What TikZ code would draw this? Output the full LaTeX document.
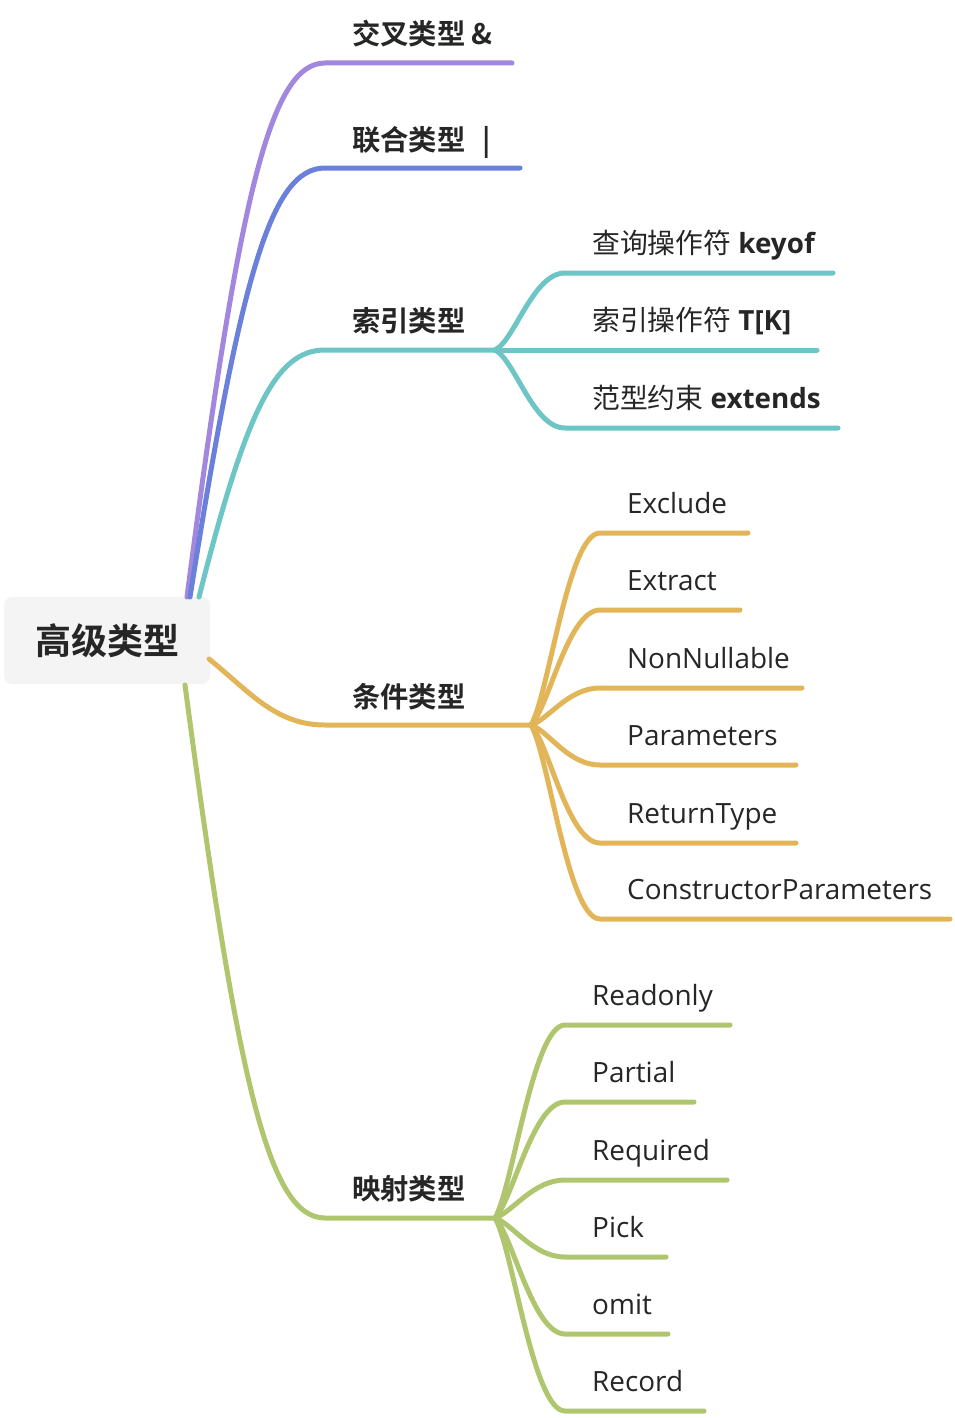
\documentclass[tikz,border=0pt]{standalone}
\usepackage{fontspec}
\setmainfont{Open Sans}
\newfontfamily\cjk{Noto Sans CJK SC}[BoldFont={Noto Sans CJK SC Bold}]
\definecolor{cpurple}{HTML}{A187DD}
\definecolor{cblue}{HTML}{6B80DB}
\definecolor{cteal}{HTML}{6DC5C5}
\definecolor{cyellow}{HTML}{E2B658}
\definecolor{cgreen}{HTML}{AFC66F}
\definecolor{rootfill}{HTML}{F4F4F4}
\definecolor{ink}{HTML}{262626}
\begin{document}
\begin{tikzpicture}[x=1pt,y=-1pt,line cap=round,line join=round,
  br/.style={line width=5pt},
  lab/.style={anchor=base west,inner sep=0pt,text=ink,font=\fontsize{28.3}{31}\selectfont},
  sub/.style={anchor=base west,inner sep=0pt,text=ink,font=\fontsize{27.8}{31}\selectfont},
  leaf/.style={anchor=base west,inner sep=0pt,text=ink,font=\fontsize{27.9}{31}\selectfont},
  rootbox/.style={fill=rootfill,rounded corners=8pt,minimum width=206pt,minimum height=87pt,inner sep=0pt,text=ink,font=\cjk\bfseries\fontsize{36}{40}\selectfont}]
\useasboundingbox (0,0) rectangle (954,1418);
\node[rootbox] (root) at (107,640.5) {高级类型};

% ---- level 1
\coordinate (a0) at (187,597); \coordinate (a1) at (325,63); \coordinate (a2) at (512,63);
\coordinate (b0) at (190,597); \coordinate (b1) at (325,168); \coordinate (b2) at (520,168);
\coordinate (c0) at (199,597); \coordinate (c1) at (325,350); \coordinate (ch) at (495,350);
\coordinate (d0) at (209,659); \coordinate (d1) at (325,725); \coordinate (dh) at (531,725);
\coordinate (e0) at (185,685); \coordinate (e1) at (325,1218); \coordinate (eh) at (495,1218);

\draw[br,cpurple] (a0) .. controls +(52,-400) and +(-55,0) .. (a1) -- (a2);
\draw[br,cblue] (b0) .. controls +(51,-322) and +(-54,0) .. (b1) -- (b2);
\draw[br,cteal] (c0) .. controls +(47,-185) and +(-50,0) .. (c1) -- (ch);
\draw[br,cyellow] (d0) .. controls +(40,32) and +(-50,0) .. (d1) -- (dh);
\draw[br,cgreen] (e0) .. controls +(53,400) and +(-56,0) .. (e1) -- (eh);

\node[lab] (la) at (352,45) {\cjk\bfseries 交叉类型 \&};
\node[lab] (lb) at (352,150) {\cjk\bfseries 联合类型\hspace{0.6em}|};
\node[lab] (lc) at (352,331) {\cjk\bfseries 索引类型};
\node[lab] (ld) at (352,707) {\cjk\bfseries 条件类型};
\node[lab] (le) at (352,1199) {\cjk\bfseries 映射类型};

% ---- teal children
\coordinate (c11) at (565,273); \coordinate (c12) at (833,273);
\coordinate (c22) at (817,350);
\coordinate (c31) at (565,428); \coordinate (c32) at (838,428);
\draw[br,cteal] (ch) .. controls +(20,-10) and +(-32,0) .. (c11) -- (c12);
\draw[br,cteal] (ch) -- (c22);
\draw[br,cteal] (ch) .. controls +(20,10) and +(-32,0) .. (c31) -- (c32);
\node[sub] (t1) at (592,253) {{\cjk 查询操作符} \textbf{keyof}};
\node[sub] (t2) at (592,330) {{\cjk 索引操作符} \textbf{T[K]}};
\node[sub] (t3) at (592,408) {{\cjk 范型约束} \textbf{extends}};

% ---- yellow children
\foreach \n/\y/\xe/\txt in {1/533/748/Exclude,2/610/740/Extract,3/688/802/NonNullable,4/765/796/Parameters,5/843/796/ReturnType,6/919/950/ConstructorParameters}{
  \coordinate (dy\n) at (600,\y);
  \coordinate (dz\n) at (\xe,\y);
  \pgfmathsetmacro\dd{0.16*(\y-725)}
  \draw[br,cyellow] (dh) .. controls +(18,\dd) and +(-32,0) .. (dy\n) -- (dz\n);
  \node[leaf] (dt\n) at (627,\y-20) {\txt};
}

% ---- green children
\foreach \n/\y/\xe/\txt in {1/1025/730/Readonly,2/1102/694/Partial,3/1180/727/Required,4/1257/666/Pick,5/1334/668/omit,6/1411/704/Record}{
  \coordinate (ey\n) at (565,\y);
  \coordinate (ez\n) at (\xe,\y);
  \pgfmathsetmacro\dd{0.16*(\y-1218)}
  \draw[br,cgreen] (eh) .. controls +(18,\dd) and +(-32,0) .. (ey\n) -- (ez\n);
  \node[leaf] (et\n) at (592,\y-20) {\txt};
}
\end{tikzpicture}
\end{document}
